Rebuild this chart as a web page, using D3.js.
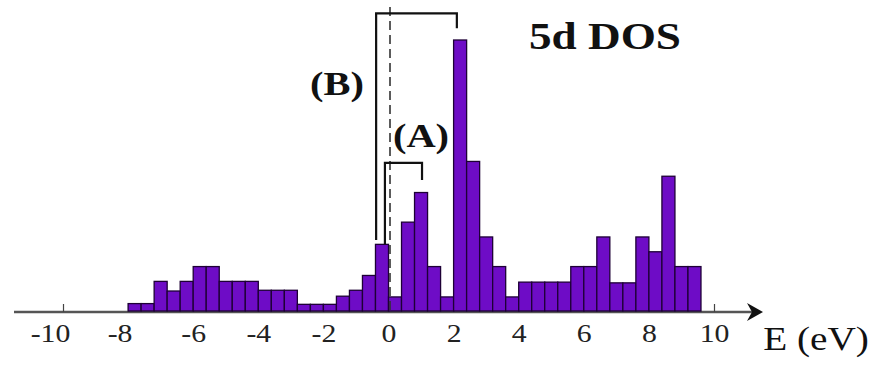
<!DOCTYPE html>
<html>
<head>
<meta charset="utf-8">
<script src="https://cdn.jsdelivr.net/npm/d3@7"></script>
<style>
  html, body { margin: 0; padding: 0; background: #fff; }
  svg { display: block; }
</style>
</head>
<body>
<svg id="chart" width="873" height="365"></svg>
<script>
// 5d density of states, histogram with 0.4 eV bins (left edge of each bin, eV)
const binLeft = [-8.0, -7.6, -7.2, -6.8, -6.4, -6.0, -5.6, -5.2, -4.8, -4.4, -4.0,
                 -3.6, -3.2, -2.8, -2.4, -2.0, -1.6, -1.2, -0.8, -0.4, 0.0,
                 0.4, 0.8, 1.2, 1.6, 2.0, 2.4, 2.8, 3.2, 3.6, 4.0,
                 4.4, 4.8, 5.2, 5.6, 6.0, 6.4, 6.8, 7.2, 7.6, 8.0,
                 8.4, 8.8, 9.2];
const binWidth = 0.4;
// DOS per bin (arbitrary units)
const dos = [0.5, 0.5, 2.0, 1.35, 2.0, 3.0, 3.0, 2.0, 2.0, 2.0, 1.4,
             1.4, 1.4, 0.45, 0.45, 0.45, 1.0, 1.4, 2.4, 4.5, 0.95,
             6.0, 8.0, 3.0, 0.95, 18.3, 10.1, 5.0, 3.0, 0.95, 1.95,
             1.95, 1.95, 1.95, 3.0, 3.0, 5.0, 1.9, 1.9, 5.0, 4.0,
             9.1, 3.0, 3.0];
const tickValues = [-10, -8, -6, -4, -2, 0, 2, 4, 6, 8, 10];
const axisTitle = "E (eV)";
const chartTitle = "5d DOS";

// Energy windows marked above the spectrum
const windowLabels = ["(B)", "(A)"];
const windowLeft   = [-0.38, -0.11];   // eV
const windowRight  = [2.1, 1.03];      // eV
const windowTop    = [20.1, 10.0];     // DOS units
const windowLeftEnd  = [4.8, 4.5];
const windowRightEnd = [19.1, 8.85];

const serif = "'Liberation Serif', 'Times New Roman', serif";
const svg = d3.select("#chart");
const baseY = 312;
const stretch = 1.19;

const x = d3.scaleLinear().domain([-10, 10]).range([63, 714]);
const y = d3.scaleLinear().domain([0, 18.3]).range([311, 40]);

// axis line with arrow
svg.append("line")
  .attr("x1", 14).attr("x2", 752)
  .attr("y1", baseY).attr("y2", baseY)
  .attr("stroke", "#555").attr("stroke-width", 2.5);
svg.append("path")
  .attr("d", `M763,${baseY} L747,${baseY - 9} L752,${baseY} L747,${baseY + 9} Z`)
  .attr("fill", "#111");

// ticks and labels (the two leftmost labels sit a little left of their ticks)
const labelShift = d => (d === -10 ? -13 : d === -8 ? -8.5 : 0);
const axis = d3.axisBottom(x)
  .tickValues(tickValues)
  .tickSize(-8)
  .tickPadding(0)
  .tickFormat(d => String(d));
const gAxis = svg.append("g").attr("transform", `translate(0,${baseY})`).call(axis);
gAxis.select(".domain").remove();
gAxis.selectAll(".tick line").attr("stroke", "#444").attr("stroke-width", 1.2);
gAxis.selectAll(".tick text")
  .attr("x", 0).attr("y", 30).attr("dy", 0)
  .attr("font-size", 25)
  .style("font-family", serif)
  .attr("fill", "#222")
  .attr("transform", d => `translate(${labelShift(d)},0) scale(${stretch},1)`);

// histogram bars
svg.append("g").selectAll("rect")
  .data(binLeft)
  .join("rect")
  .attr("x", d => x(d))
  .attr("width", d => x(d + binWidth) - x(d))
  .attr("y", (d, i) => y(dos[i]))
  .attr("height", (d, i) => y(0) - y(dos[i]))
  .attr("fill", "#6e0cc6")
  .attr("stroke", "#1e0036")
  .attr("stroke-width", 1.3);

// Fermi level
svg.append("line")
  .attr("x1", x(0) + 1.5).attr("x2", x(0) + 1.5)
  .attr("y1", 7).attr("y2", baseY - 2)
  .attr("stroke", "#333").attr("stroke-width", 1.6)
  .attr("stroke-dasharray", "9,5");

// bracketed energy windows
windowLabels.forEach((lab, i) => {
  const xl = x(windowLeft[i]), xr = x(windowRight[i]);
  svg.append("path")
    .attr("d", `M${xl},${y(windowLeftEnd[i])} L${xl},${y(windowTop[i])} L${xr},${y(windowTop[i])} L${xr},${y(windowRightEnd[i])}`)
    .attr("fill", "none").attr("stroke", "#111").attr("stroke-width", 2.2);
});

function stretchedText(str, cx, cy, size, weight) {
  svg.append("text")
    .attr("transform", `translate(${cx},${cy}) scale(${stretch},1)`)
    .attr("text-anchor", "middle")
    .attr("font-size", size)
    .attr("font-weight", weight)
    .style("font-family", serif)
    .attr("fill", "#111")
    .text(str);
}

stretchedText(windowLabels[0], 337, 95, 34, "bold");
stretchedText(windowLabels[1], 421, 147, 34, "bold");
stretchedText(chartTitle, 605, 49, 38, "bold");
stretchedText(axisTitle, 816, 350, 33, "normal");
</script>
</body>
</html>
